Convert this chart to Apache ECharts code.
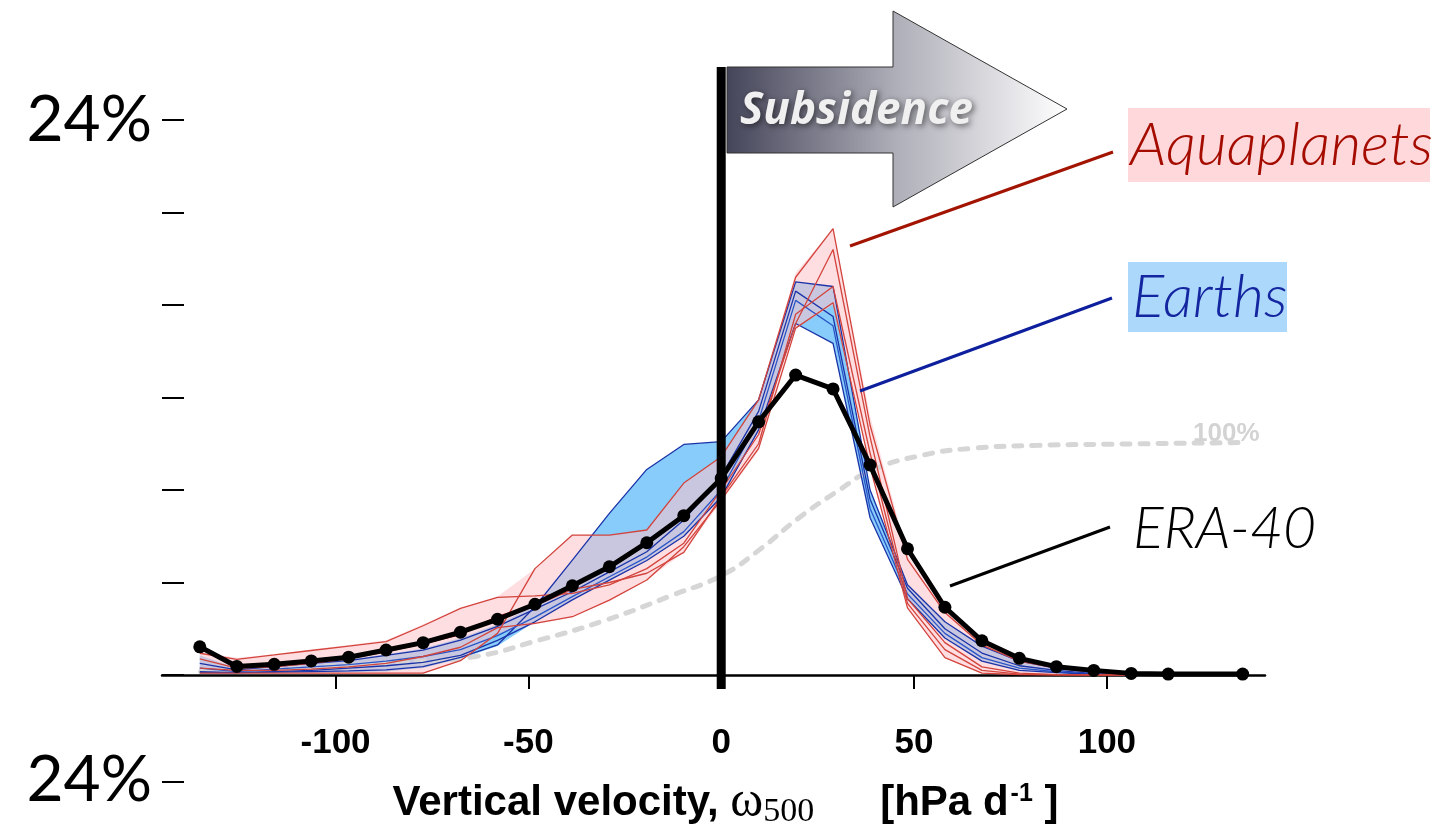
<!DOCTYPE html>
<html><head><meta charset="utf-8">
<script src="https://cdn.jsdelivr.net/npm/echarts@6/dist/echarts.min.js"></script>
<style>html,body{margin:0;padding:0;background:#fff}#c{width:1455px;height:836px}</style>
</head><body><div id="c"></div>
<script>
// ---- data ----
const bins = [-135.2,-125.6,-115.9,-106.3,-96.6,-86.9,-77.3,-67.6,-58,-48.3,-38.6,-29,-19.3,-9.7,0,9.7,19.3,29,38.6,48.3,58,67.6,77.3,86.9,96.6,106.3,115.9,135.2];
const era40 = [1.22,0.37,0.46,0.61,0.77,1.08,1.40,1.85,2.41,3.06,3.86,4.68,5.72,6.89,8.50,10.95,12.97,12.37,9.08,5.46,2.93,1.48,0.72,0.36,0.20,0.07,0.04,0.04];

// Aquaplanets: individual models and shaded spread
const aquaA = [0.08,0.08,0.08,0.08,0.08,0.08,0.08,0.62,1.8,4.6,6.05,6.05,6.27,8.3,9.44,11.9,17.2,19.3,10.8,5.0,2.7,1.3,0.6,0.3,0.12,0.05,0.02,0];
const aquaB = [0.94,0.68,0.87,1.06,1.25,1.44,2.13,2.88,3.36,3.42,3.53,3.9,4.6,5.7,8.0,10.4,15.2,18.4,10.3,3.3,1.4,0.35,0.08,0.02,0,0,0,0];
const aquaC = [0.7,0.3,0.35,0.5,0.7,1.0,1.35,1.75,2.55,3.0,3.7,4.0,4.4,5.3,7.7,10.0,15.6,16.8,9.6,3.1,1.1,0.2,0.04,0.01,0,0,0,0];
const aquaD = [0.3,0.2,0.2,0.25,0.35,0.5,0.8,1.2,2.05,2.23,2.52,3.24,4.11,5.55,7.57,9.8,15.0,16.1,9.0,2.9,0.75,0.08,0.02,0,0,0,0,0];
const aquaHi = [1.0,0.75,0.9,1.1,1.3,1.5,2.2,2.9,3.4,4.6,6.05,6.05,6.27,8.3,9.44,11.9,17.4,19.3,11.2,5.2,2.8,1.4,0.65,0.3,0.12,0.05,0.02,0];
const aquaLo = [0.08,0.05,0.05,0.05,0.05,0.05,0.08,0.62,1.8,2.2,2.5,3.2,4.1,5.3,7.5,9.7,15.0,16.0,9.0,2.9,0.75,0.08,0.02,0,0,0,0,0];

// Earths: individual models and shaded spread
const earthX = [0.1,0.1,0.12,0.15,0.18,0.22,0.36,0.76,1.30,2.95,4.97,6.99,8.89,9.97,10.09,11.9,17.0,16.8,8.0,3.9,2.3,1.25,0.6,0.3,0.1,0.04,0.02,0];
const earthA = [0.5,0.22,0.36,0.5,0.62,0.85,1.08,1.51,2.1,2.85,3.6,4.46,5.33,6.7,8.6,11.4,16.6,15.5,7.6,3.75,2.0,0.95,0.4,0.2,0.06,0.02,0.01,0];
const earthB = [0.3,0.15,0.25,0.35,0.45,0.6,0.8,1.1,1.7,2.5,3.39,4.25,5.1,6.2,8.0,11.0,16.2,15.1,7.2,3.5,1.8,0.75,0.3,0.14,0.04,0.01,0,0];
const earthC = [0.15,0.1,0.15,0.2,0.3,0.4,0.55,0.85,1.5,2.3,3.25,4.1,4.95,6.0,7.7,10.6,15.2,14.34,6.8,3.3,1.6,0.6,0.2,0.1,0.03,0,0,0];
const earthHi = [0.85,0.3,0.4,0.55,0.68,0.9,1.15,1.6,2.2,3.0,4.97,6.99,8.89,9.97,10.09,11.9,17.0,16.8,8.0,3.9,2.3,1.25,0.6,0.3,0.1,0.04,0.02,0];
const earthLo = [0.05,0.05,0.08,0.1,0.12,0.15,0.3,0.7,1.25,2.3,3.25,4.1,4.95,6.0,7.7,10.6,15.2,14.34,6.8,3.3,1.6,0.6,0.2,0.1,0.03,0,0,0];

// cumulative curve (grey dashed), 100% level drawn at ~10 on the axis
const cumX = [-135,-120,-100,-82,-64.5,-47.2,-29.8,-12.7,0.3,9.8,20.2,30.6,39.1,52.1,65,82.4,100.5,134];
const cumY = [0.15,0.25,0.4,0.55,0.78,1.51,2.38,3.45,4.32,5.4,6.8,8.0,8.86,9.5,9.8,9.93,9.98,10.05];

const xTicks = [-100,-50,0,50,100];
const yTopLabel = 24;

// ---- chart ----
const chart = echarts.init(document.getElementById('c'), null, {renderer:'canvas'});
const pairs = (xs, ys) => xs.map((x,i)=>[x, ys[i]]);

function band(hi, lo, fill){
  return {
    type:'custom', silent:true, coordinateSystem:'cartesian2d',
    data:[[bins[0], hi[0]]], encode:{x:0,y:1},
    renderItem:(params, api)=>{
      const pts=[];
      for(let i=0;i<bins.length;i++) pts.push(api.coord([bins[i], hi[i]]));
      for(let i=bins.length-1;i>=0;i--) pts.push(api.coord([bins[i], lo[i]]));
      return {type:'polygon', shape:{points:pts}, style:{fill:fill}};
    }
  };
}
function modelLine(ys, color){
  return {type:'line', data:pairs(bins, ys), symbol:'none', silent:true,
          lineStyle:{color:color, width:1.3}, z:3};
}

const sans = '"Liberation Sans", Arial, sans-serif';
const serif = '"Liberation Serif", "Times New Roman", serif';

chart.setOption({
  animation:false,
  backgroundColor:'#ffffff',
  grid:{left:162, right:190, top:120, bottom:161, containLabel:false},
  xAxis:{
    type:'value', min:-145, max:141,
    axisLine:{onZero:false, lineStyle:{color:'#000', width:2.5}},
    axisTick:{customValues:xTicks, length:14, lineStyle:{color:'#000', width:2}},
    axisLabel:{customValues:xTicks, margin:51, fontSize:35, fontWeight:'bold', fontFamily:sans, color:'#000'},
    splitLine:{show:false},
    name:'{b|Vertical velocity, }{w|ω}{s|500}{g|[hPa d}{p|-1}{b| ]}',
    nameLocation:'middle', nameGap:102,
    nameTextStyle:{
      padding:[0,0,0,24],
      rich:{
        b:{fontSize:42, fontWeight:'bold', fontFamily:sans, color:'#000', lineHeight:52},
        g:{fontSize:42, fontWeight:'bold', fontFamily:sans, color:'#000', lineHeight:52, padding:[0,0,0,66]},
        w:{fontSize:50, fontFamily:serif, color:'#000', lineHeight:52},
        s:{fontSize:34, fontFamily:serif, color:'#000', lineHeight:34, verticalAlign:'bottom'},
        p:{fontSize:25, fontWeight:'bold', fontFamily:sans, color:'#000', lineHeight:25, verticalAlign:'top', padding:[5,0,0,2]}
      }
    }
  },
  yAxis:{
    type:'value', min:0, max:24, interval:4,
    axisLine:{show:false, onZero:false},
    axisTick:{show:true, inside:true, length:22, lineStyle:{color:'#000', width:2}},
    axisLabel:{margin:10, fontSize:64, fontFamily:'Lato, "Open Sans", sans-serif', color:'#000',
               formatter:v => v===yTopLabel ? yTopLabel+'%' : ''},
    splitLine:{show:false}
  },
  series:[
    band(earthHi, earthLo, 'rgb(135,204,250)'),
    {type:'line', data:pairs(cumX, cumY), smooth:true, symbol:'none', silent:true,
     lineStyle:{color:'#d6d6d6', width:5, type:[8,10], cap:'round'}, z:2},
    band(aquaHi, aquaLo, 'rgba(255,195,202,0.55)'),
    modelLine(earthX,'#1a33a8'), modelLine(earthA,'#1a33a8'), modelLine(earthB,'#2a55c8'), modelLine(earthC,'#1a33a8'),
    modelLine(aquaA,'#d2443c'), modelLine(aquaB,'#d2443c'), modelLine(aquaC,'#d2443c'), modelLine(aquaD,'#d2443c'),
    {type:'line', data:pairs(bins, era40), symbol:'circle', symbolSize:13, silent:true,
     itemStyle:{color:'#000'}, lineStyle:{color:'#000', width:5}, z:5}
  ]
});

// annotations
const x0 = chart.convertToPixel({xAxisIndex:0}, 0);
chart.setOption({
  graphic:[
    {type:'rect', z:100, shape:{x:x0-4.5, y:67, width:9, height:622}, style:{fill:'#000'}},
    {type:'polygon', z:100, shape:{points:[[727,67],[893,67],[893,11],[1067,109],[893,207],[893,153],[727,153]]},
     style:{fill:new echarts.graphic.LinearGradient(0,0,1,0,[
       {offset:0,color:'#45455a'},{offset:0.5,color:'#aeafb8'},{offset:1,color:'#ffffff'}]),
       stroke:'#333', lineWidth:1}},
    {type:'text', z:101, x:740, y:111, style:{text:'Subsidence', font:'italic bold 44px "Open Sans", sans-serif',
      fill:'#f0f0f0', textVerticalAlign:'middle', textShadowColor:'rgba(0,0,0,0.55)', textShadowBlur:6,
      textShadowOffsetX:2, textShadowOffsetY:2}},
    {type:'rect', z:100, shape:{x:1128, y:108, width:302, height:74}, style:{fill:'#ffd8db'}},
    {type:'text', z:101, x:1130, y:146, style:{text:'Aquaplanets', font:'italic 300 60px Lato, sans-serif',
      fill:'#a50c00', textVerticalAlign:'middle'}},
    {type:'line', z:100, shape:{x1:850, y1:246, x2:1113, y2:152}, style:{stroke:'#a31400', lineWidth:3}},
    {type:'rect', z:100, shape:{x:1128, y:262, width:159, height:70}, style:{fill:'#acd8fb'}},
    {type:'text', z:101, x:1132, y:298, style:{text:'Earths', font:'italic 300 60px Lato, sans-serif',
      fill:'#1425a0', textVerticalAlign:'middle'}},
    {type:'line', z:100, shape:{x1:860, y1:391, x2:1112, y2:298}, style:{stroke:'#0d1f9c', lineWidth:3}},
    {type:'text', z:101, x:1133, y:530, style:{text:'ERA-40', font:'italic 300 57px Lato, sans-serif',
      fill:'#000', textVerticalAlign:'middle'}},
    {type:'line', z:100, shape:{x1:950, y1:586, x2:1110, y2:527}, style:{stroke:'#000', lineWidth:3}},
    {type:'text', z:101, x:1193, y:434, style:{text:'100%', font:'bold 26px "Liberation Sans", Arial, sans-serif',
      fill:'#d3d3d3', textVerticalAlign:'middle'}},
    {type:'text', z:101, x:152, y:780, style:{text:'24%', font:'64px Lato, sans-serif', fill:'#000',
      textAlign:'right', textVerticalAlign:'middle'}},
    {type:'line', z:100, shape:{x1:162, y1:782, x2:184, y2:782}, style:{stroke:'#000', lineWidth:2}}
  ]
});
</script></body></html>
